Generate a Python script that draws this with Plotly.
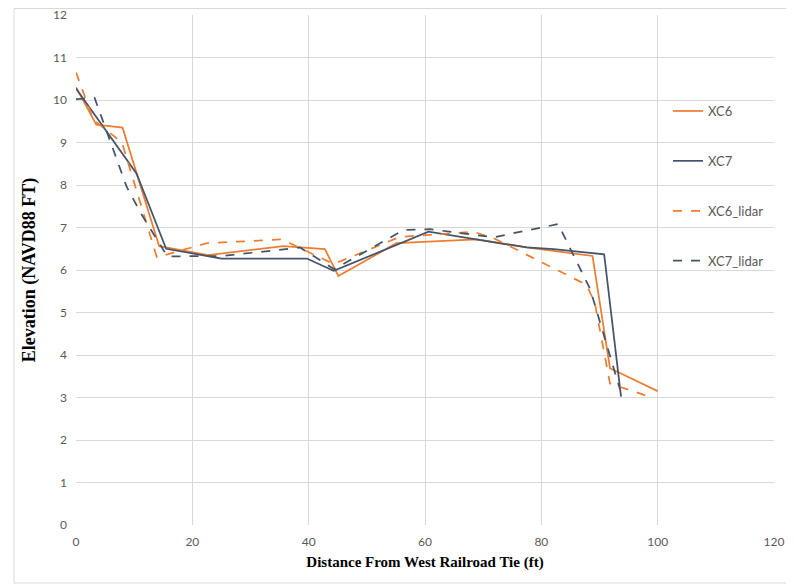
import plotly.graph_objects as go

# ---- data ----
xc6_x = [0, 3.5, 8.0, 14.3, 22.7, 35.6, 42.8, 45.1, 55.1, 68.9, 77.5, 88.8, 91.8, 100.0]
xc6_y = [10.3, 9.42, 9.35, 6.56, 6.35, 6.56, 6.49, 5.86, 6.63, 6.72, 6.53, 6.33, 3.69, 3.15]

xc7_x = [0, 10.4, 15.5, 25.0, 39.7, 44.3, 60.6, 77.5, 82.1, 90.8, 93.7]
xc7_y = [10.27, 8.27, 6.5, 6.27, 6.27, 5.98, 6.9, 6.53, 6.49, 6.37, 3.02]

xc6_lidar_x = [0, 3.0, 7.9, 13.9, 22.5, 35.4, 44.3, 55.7, 68.3, 71.8, 87.8, 89.2, 91.8, 99.0]
xc6_lidar_y = [10.65, 9.53, 9.0, 6.3, 6.63, 6.72, 6.14, 6.78, 6.9, 6.75, 5.65, 5.22, 3.33, 3.0]

xc7_lidar_x = [0, 3.2, 8.7, 11.3, 15.7, 25.3, 38.5, 44.4, 56.3, 60.9, 71.8, 82.9, 88.4, 93.5]
xc7_lidar_y = [10.02, 10.05, 7.96, 7.3, 6.32, 6.33, 6.53, 6.02, 6.94, 6.96, 6.77, 7.08, 5.55, 3.2]

series_names = ["XC6", "XC7", "XC6_lidar", "XC7_lidar"]
x_ticks = [0, 20, 40, 60, 80, 100, 120]
y_ticks = list(range(0, 13))

ORANGE = "#ED7D31"
NAVY = "#44546A"

fig = go.Figure()
specs = [
    (xc6_x, xc6_y, ORANGE, "solid"),
    (xc7_x, xc7_y, NAVY, "solid"),
    (xc6_lidar_x, xc6_lidar_y, ORANGE, "dash"),
    (xc7_lidar_x, xc7_lidar_y, NAVY, "dash"),
]
for name, (xs, ys, col, dash) in zip(series_names, specs):
    fig.add_trace(go.Scatter(
        x=xs, y=ys, mode="lines", name=name, legendgroup=name,
        line=dict(color=col, width=1.75, dash=dash),
    ))

# page has an 8px body margin, so the figure is sized/placed to compensate
OFF = 8
W, H = 794 - OFF, 584 - OFF
L, T = 76 - OFF, 15 - OFF
R = W - (774 - OFF)
B = H - (525 - OFF)
pw = W - L - R
ph = H - T - B

def px_x(p):  # page pixel -> paper x
    return (p - OFF - L) / pw

def px_y(p):  # page pixel -> paper y
    return (T + ph - (p - OFF)) / ph

tick_font = dict(family="Lato, Liberation Sans, sans-serif", size=12, color="#595959")
legend_font = dict(family="Lato, Liberation Sans, sans-serif", size=13, color="#595959")
xtitle_font = dict(family="Liberation Serif, Times New Roman, serif", size=15, color="#000000")
ytitle_font = dict(family="Liberation Serif, Times New Roman, serif", size=18, color="#000000")

fig.update_layout(
    width=W, height=H,
    margin=dict(l=L, r=R, t=T, b=B, pad=0, autoexpand=False),
    paper_bgcolor="white", plot_bgcolor="white",
    showlegend=True,
    legend=dict(
        x=px_x(668), y=px_y(96), xanchor="left", yanchor="top",
        bgcolor="rgba(0,0,0,0)", font=legend_font,
        tracegroupgap=30, itemwidth=30,
    ),
    xaxis=dict(
        range=[0, 120], tickvals=x_ticks, showgrid=True, gridcolor="#D9D9D9", gridwidth=1,
        zeroline=False, showline=False, ticks="", tickfont=tick_font,
        ticklabelstandoff=8, automargin=False, ticklabeloverflow="allow",
        title=dict(text="<b>Distance From West Railroad Tie (ft)</b>", font=xtitle_font, standoff=8),
    ),
    yaxis=dict(
        range=[0, 12], tickvals=y_ticks, showgrid=True, gridcolor="#D9D9D9", gridwidth=1,
        zeroline=False, showline=False, ticks="", tickfont=tick_font,
        ticklabelstandoff=8, automargin=False, ticklabeloverflow="allow",
        title=dict(text="<b>Elevation (NAVD88 FT)</b>", font=ytitle_font, standoff=12),
    ),
)

# outer chart border
fig.add_shape(
    type="rect", xref="paper", yref="paper",
    x0=px_x(14), x1=px_x(789),
    y0=px_y(583), y1=px_y(8.5),
    line=dict(color="#D9D9D9", width=1), fillcolor="rgba(0,0,0,0)", layer="below",
)

fig.write_html("out.html")
